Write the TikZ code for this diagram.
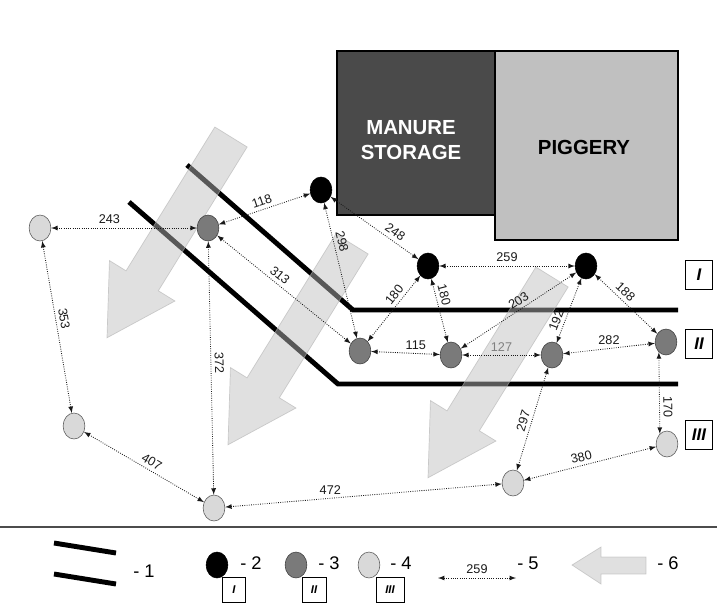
\documentclass[tikz,border=0pt]{standalone}
\usepackage{fontspec}
\setmainfont{Liberation Sans}
\usetikzlibrary{shapes.geometric}
\definecolor{manuregray}{HTML}{4A4A4A}
\definecolor{piggray}{HTML}{C0C0C0}
\definecolor{midgray}{HTML}{7A7A7A}
\definecolor{palegray}{HTML}{D9D9D9}
\definecolor{windgray}{HTML}{BDBDBD}
\tikzset{
  ptI/.style={ellipse, draw=black, fill=black, minimum width=15.5pt, minimum height=18.5pt, inner sep=0pt},
  ptII/.style={ptI, draw=black!75, fill=midgray},
  ptIII/.style={ptI, draw=black!65, fill=palegray},
  link/.style={<->, >=latex, densely dotted, line width=0.6pt, black!90},
  lab/.style={font=\fontsize{9}{10}\selectfont, text=black!90, inner sep=2.5pt},
  barrier/.style={line width=3.5pt},
  wind/.style={fill=windgray, fill opacity=0.47, draw=black!30, draw opacity=0.6, line width=0.5pt},
  zone/.style={draw, line width=0.6pt, minimum width=19pt, minimum height=21pt, inner sep=0pt, font=\bfseries\itshape\fontsize{12}{12}\selectfont},
  keyzone/.style={zone, minimum width=16pt, minimum height=18pt, font=\bfseries\itshape\fontsize{8}{8}\selectfont},
  keytext/.style={font=\fontsize{13}{13}\selectfont, inner sep=0pt}
}
\begin{document}
\begin{tikzpicture}[scale=0.25]
\useasboundingbox (0,0) rectangle (71.7,-60.8);
\draw [line width=2pt, fill=manuregray] (33.7,-5.1) rectangle (49.5,-21.5);
\draw [line width=2pt, fill=piggray] (49.5,-5.1) rectangle (67.8,-24.0);
\node [white, font=\bfseries\fontsize{14.5}{18}\selectfont, align=center] (manure) at (41.1,-14.0) {MANURE\\STORAGE};
\node [font=\bfseries\fontsize{14.5}{18}\selectfont] (piggery) at (58.4,-14.7) {PIGGERY};
\draw [barrier] (18.7,-16.5) -- (35.3,-31.0) -- (67.8,-31.0);
\draw [barrier] (12.9,-20.2) -- (33.8,-38.4) -- (67.8,-38.4);
\foreach \ax/\ay in {23.1/-13.7, 35.2/-24.4, 55.2/-27.7}
  \filldraw [wind, shift={(\ax,\ay)}, rotate=-121.7] (0,1.9) -- (16.9,1.9) -- (16.9,3.85) -- (23.6,0) -- (16.9,-3.85) -- (16.9,-1.9) -- (0,-1.9) -- cycle;
\node [ptI] (B1) at (32.1,-19.0) {};
\node [ptI] (B2) at (42.8,-26.6) {};
\node [ptI] (B3) at (58.6,-26.6) {};
\node [ptII] (G1) at (20.8,-22.8) {};
\node [ptII] (G2) at (36.0,-35.1) {};
\node [ptII] (G3) at (45.1,-35.5) {};
\node [ptII] (G4) at (55.2,-35.5) {};
\node [ptII] (G5) at (66.6,-34.2) {};
\node [ptIII] (L1) at (4.0,-22.8) {};
\node [ptIII] (L2) at (7.4,-42.6) {};
\node [ptIII] (L3) at (21.4,-50.8) {};
\node [ptIII] (L4) at (51.3,-48.3) {};
\node [ptIII] (L5) at (66.7,-44.4) {};
\node [zone] (zI) at (69.9,-27.5) {I};
\node [zone] (zII) at (69.9,-34.4) {II};
\node [zone] (zIII) at (69.9,-43.5) {III};
\draw [link] (L1) -- node [lab, above, pos=0.4] {243} (G1);
\draw [link] (G1) -- node [lab, sloped, above] {118} (B1);
\draw [link] (B1) -- node [lab, sloped, above, pos=0.68] {248} (B2);
\draw [link] (B1) -- node [lab, sloped, above, pos=0.3] {298} (G2);
\draw [link] (G1) -- node [lab, sloped, above, pos=0.43] {313} (G2);
\draw [link] (G1) -- node [lab, sloped, above, pos=0.48] {372} (L3);
\draw [link] (L1) -- node [lab, sloped, above, pos=0.46] {353} (L2);
\draw [link] (L2) -- node [lab, sloped, above, pos=0.53] {407} (L3);
\draw [link] (L3) -- node [lab, above, pos=0.38] {472} (L4);
\draw [link] (L4) -- node [lab, sloped, above, pos=0.45] {380} (L5);
\draw [link] (L4) -- node [lab, sloped, above, pos=0.46] {297} (G4);
\draw [link] (G5.235) -- node [lab, sloped, above, pos=0.67] {170} (L5.125);
\draw [link] (G2) -- node [lab, above, pos=0.65] {115} (G3);
\draw [link] (G3) -- node [lab, above, text=black!50] {127} (G4);
\draw [link] (G4) -- node [lab, above] {282} (G5);
\draw [link] (B2) -- node [lab, above] {259} (B3);
\draw [link] (G2) -- node [lab, sloped, above, pos=0.63] {180} (B2);
\draw [link] (B2) -- node [lab, sloped, above, pos=0.29] {180} (G3);
\draw [link] (G3) -- node [lab, sloped, above, pos=0.54] {203} (B3);
\draw [link] (G4) -- node [lab, sloped, above, pos=0.3] {192} (B3);
\draw [link] (B3) -- node [lab, sloped, above, pos=0.4] {188} (G5);
\draw [line width=1pt, black!70] (0,-52.7) -- (71.7,-52.7);
\draw [barrier] (5.4,-54.3) -- (11.6,-55.3);
\draw [barrier] (5.4,-57.4) -- (11.6,-58.4);
\node [keytext] (key1) at (14.4,-57.1) {- 1};
\node [ptI] (keyI) at (21.7,-56.5) {};
\node [keytext] (key2) at (25.1,-56.3) {- 2};
\node [keyzone] (keyzI) at (23.4,-59.0) {I};
\node [ptII] (keyII) at (29.6,-56.5) {};
\node [keytext] (key3) at (32.9,-56.3) {- 3};
\node [keyzone, minimum width=17pt] (keyzII) at (31.4,-59.0) {II};
\node [ptIII] (keyIII) at (36.9,-56.5) {};
\node [keytext] (key4) at (40.1,-56.3) {- 4};
\node [keyzone, minimum width=20pt] (keyzIII) at (39.0,-59.0) {III};
\coordinate (k5a) at (43.8,-57.8);
\coordinate (k5b) at (51.6,-57.8);
\draw [link] (k5a) -- node [lab, above] {259} (k5b);
\node [keytext] (key5) at (52.8,-56.3) {- 5};
\filldraw [wind] (57.2,-56.5) -- (60.1,-54.7) -- (60.1,-55.7) -- (64.6,-55.7) -- (64.6,-57.4) -- (60.1,-57.4) -- (60.1,-58.4) -- cycle;
\node [keytext] (key6) at (66.8,-56.3) {- 6};
\end{tikzpicture}
\end{document}
